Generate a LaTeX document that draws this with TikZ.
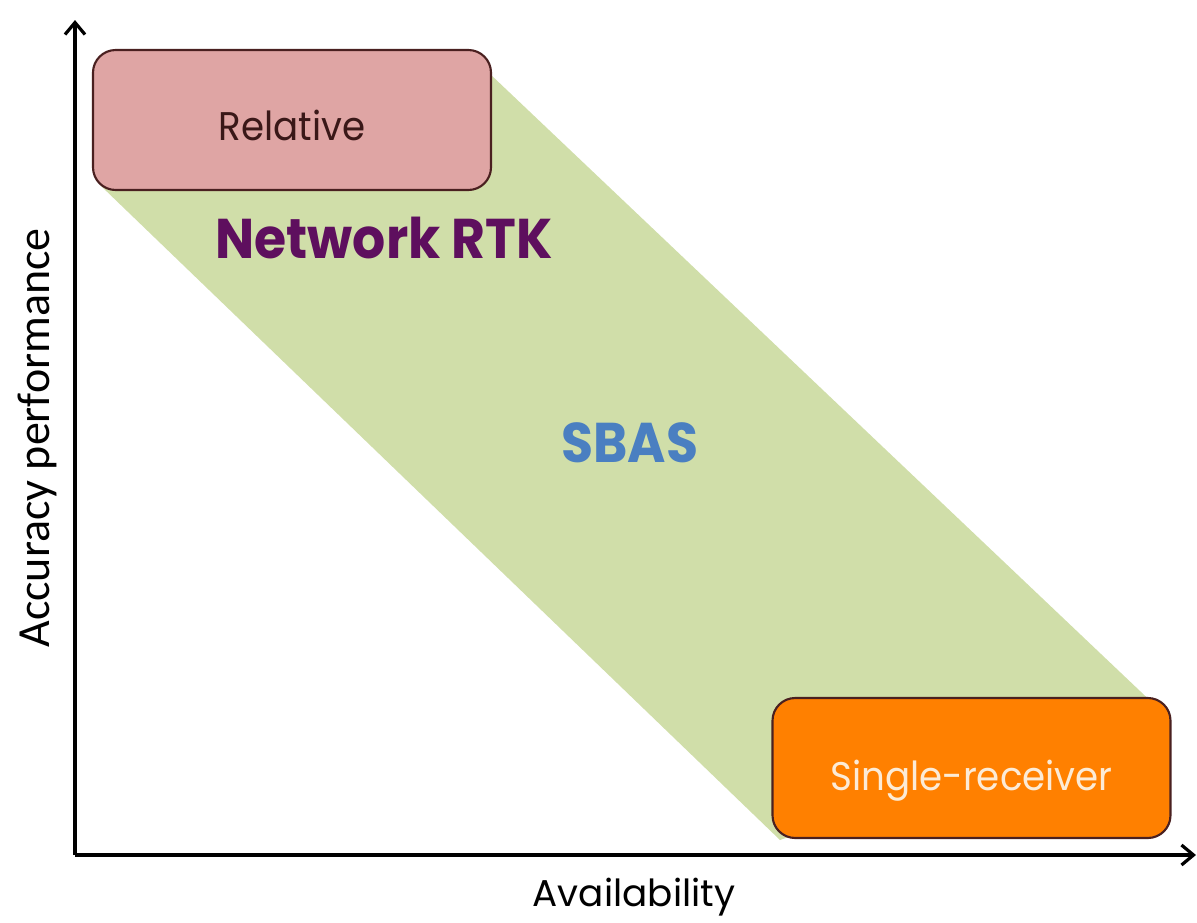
\documentclass[tikz,border=0pt]{standalone}
\usepackage{fontspec}
\setmainfont{Poppins}
\newfontfamily\narrowfont[FakeStretch=0.93]{Poppins}
\newfontfamily\calfont{Carlito}
\usetikzlibrary{arrows.meta}
\definecolor{bandgreen}{HTML}{D0DEA9}
\definecolor{relfill}{HTML}{DFA5A4}
\definecolor{boxedge}{HTML}{4A2020}
\definecolor{orangefill}{HTML}{FF8000}
\definecolor{creamtext}{HTML}{FCEBD6}
\definecolor{rtkpurple}{HTML}{5E0F5E}
\definecolor{sbasblue}{HTML}{4A7FC1}
\definecolor{darktext}{HTML}{3A1818}
\tikzset{
  every node/.style={inner sep=0pt, outer sep=0pt},
  regionbox/.style={draw=boxedge, line width=1.6pt, rounded corners=17pt,
    minimum width=298.5pt, minimum height=105pt},
  axisline/.style={line width=2.8pt, -{Straight Barb[length=9pt,width=15pt,line width=2.4pt]}},
  boxtext/.style={anchor=base, font=\narrowfont\fontsize{30pt}{30pt}\selectfont},
  bigtext/.style={anchor=base, font=\narrowfont\fontsize{42pt}{42pt}\selectfont\bfseries},
}
\begin{document}
\begin{tikzpicture}[x=0.75pt,y=-0.75pt]
  \useasboundingbox (0,0) rectangle (1197,922);
  % band between the two extremes
  \coordinate (b1) at (470,55);
  \coordinate (b2) at (1160,710);
  \coordinate (b3) at (780,840);
  \coordinate (b4) at (100,185);
  \fill[bandgreen] (b1) -- (b2) -- (b3) -- (b4) -- cycle;
  % axes
  \coordinate (o) at (75,855);
  \coordinate (ytip) at (75,20);
  \coordinate (xtip) at (1196,855);
  \draw[axisline] (o) -- (ytip);
  \draw[axisline] (o) -- (xtip);
  % boxes
  \node[regionbox, fill=relfill] (rel) at (292,120) {};
  \node[regionbox, fill=orangefill] (single) at (971.5,768) {};
  \node[boxtext, text=darktext] (reltext) at (292,140) {Relative};
  \node[boxtext, text=creamtext] (singletext) at (971.5,790) {Single-receiver};
  % labels
  \node[bigtext, text=rtkpurple] (rtk) at (384,258) {Network RTK};
  \node[bigtext, text=sbasblue] (sbas) at (630,462) {SBAS};
  \node[rotate=90, font=\calfont\fontsize{34.5pt}{34.5pt}\selectfont] (ylab) at (37,438) {Accuracy performance};
  \node[anchor=base, font=\fontsize{28pt}{28pt}\selectfont] (xlab) at (634,906) {Availability};
\end{tikzpicture}
\end{document}
